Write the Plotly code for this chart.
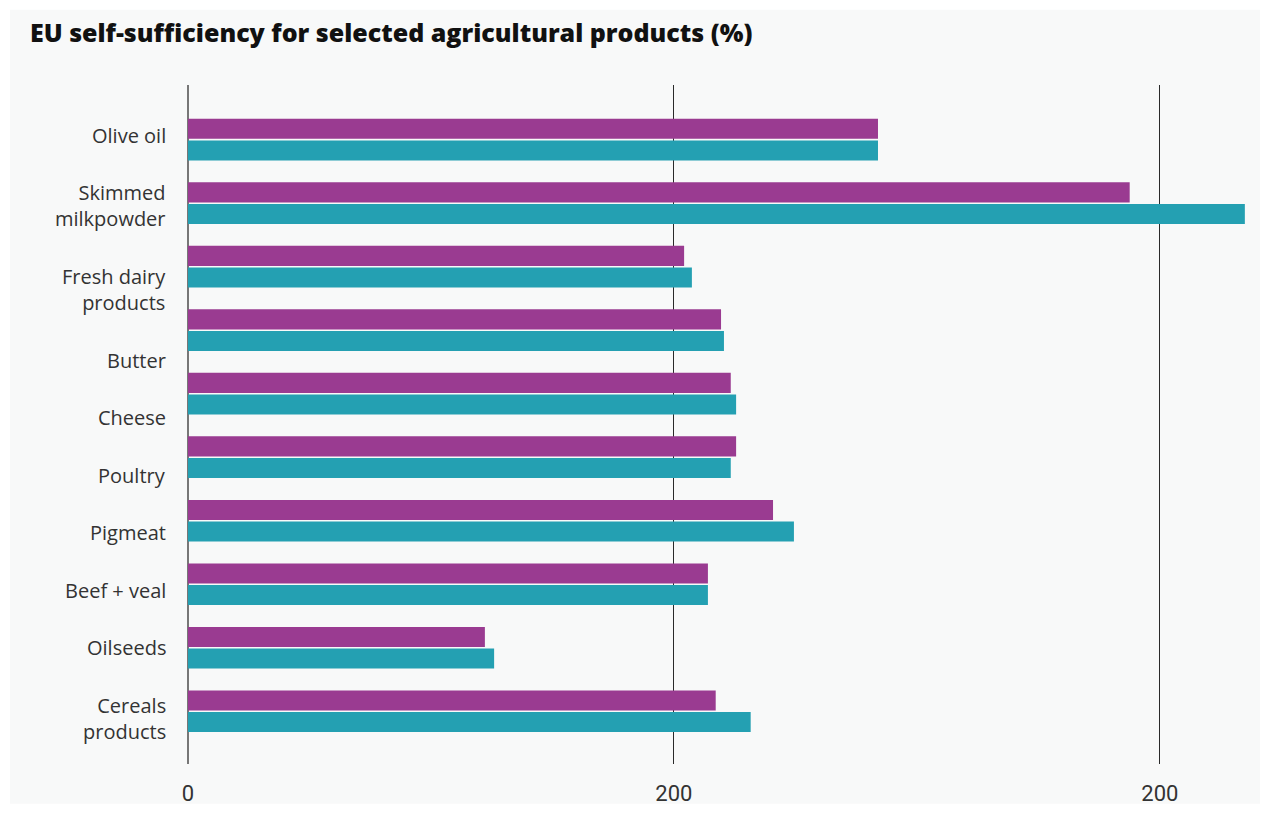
import plotly.graph_objects as go

categories = ["Olive oil", "Skimmed<br>milkpowder", "Fresh dairy<br>products", "Butter",
              "Cheese", "Poultry", "Pigmeat", "Beef + veal", "Oilseeds", "Cereals<br>products"]
series_a = [142.0, 193.8, 102.1, 109.7, 111.7, 112.8, 120.4, 107.0, 61.1, 108.6]
series_b = [142.0, 217.5, 103.7, 110.3, 112.8, 111.7, 124.7, 107.0, 63.0, 115.8]
tick_vals = [0, 100, 200]
tick_text = ["0", "200", "200"]

# page has an 8px body margin; figure coordinates = screen - 8
W, H = 1252, 801
ml, mr, mt, mb = 180, 3, 77, 39

fig = go.Figure()
fig.add_trace(go.Bar(y=categories, x=series_a, orientation="h", marker_color="#9a3b91",
                     marker_line_width=0, name="A"))
fig.add_trace(go.Bar(y=categories, x=series_b, orientation="h", marker_color="#24a0b2",
                     marker_line_width=0, name="B"))

pw = W - ml - mr
ph = H - mt - mb
fig.add_shape(type="rect", xref="paper", yref="paper", layer="below",
              x0=(2 - ml) / pw, x1=(W - ml) / pw,
              y0=(H - mb - 802) / ph, y1=(H - mb - 1) / ph,
              fillcolor="#f8f9f9", line_width=0)

# category labels laid out as a stacked text column (as in the original),
# one slot per label whose height depends on its number of lines
slot_one, slot_two = 58.0, 84.6
top = 21.5  # px below the plot top
for lab in categories:
    slot = slot_two if "<br>" in lab else slot_one
    cy = top + slot / 2
    top += slot
    fig.add_annotation(text=lab, xref="paper", yref="paper", x=0, xshift=-20,
                       y=1 - cy / ph, xanchor="right", yanchor="middle", align="right",
                       showarrow=False,
                       font=dict(family="Open Sans", size=20, color="#333"))

fig.update_layout(
    width=W, height=H,
    margin=dict(l=ml, r=mr, t=mt, b=mb),
    paper_bgcolor="white", plot_bgcolor="#f8f9f9",
    barmode="group", bargap=0.32, bargroupgap=0.07,
    showlegend=False,
    title=dict(text="EU self-sufficiency for selected agricultural products (%)",
               x=22 / W, xanchor="left", y=1 - 25 / H, yanchor="middle",
               font=dict(family="Open Sans", size=25, weight=800, color="#111")),
    font=dict(family="Open Sans", color="#333"),
)
fig.update_xaxes(range=[0, 220], tickvals=tick_vals, ticktext=tick_text,
                 showgrid=True, gridcolor="#2a2a2a", gridwidth=1,
                 zeroline=True, zerolinecolor="#777", zerolinewidth=2,
                 ticks="", ticklabelstandoff=14,
                 tickfont=dict(family="Roboto", size=22, color="#333"),
                 showline=False)
fig.update_yaxes(range=[9.83, -0.86], ticks="", showticklabels=False, showgrid=False)

fig.write_html("out.html")
